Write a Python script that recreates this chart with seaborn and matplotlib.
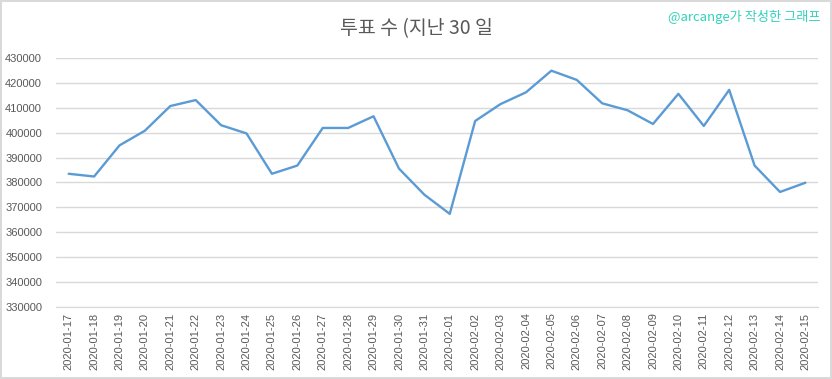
import seaborn as sns
import matplotlib.pyplot as plt
import pandas as pd

dates = ['2020-01-17', '2020-01-18', '2020-01-19', '2020-01-20', '2020-01-21',
         '2020-01-22', '2020-01-23', '2020-01-24', '2020-01-25', '2020-01-26',
         '2020-01-27', '2020-01-28', '2020-01-29', '2020-01-30', '2020-01-31',
         '2020-02-01', '2020-02-02', '2020-02-03', '2020-02-04', '2020-02-05',
         '2020-02-06', '2020-02-07', '2020-02-08', '2020-02-09', '2020-02-10',
         '2020-02-11', '2020-02-12', '2020-02-13', '2020-02-14', '2020-02-15']
votes = [383500, 382400, 394900, 400800, 410700, 413100, 403000, 399700, 383500, 386800,
         401900, 401900, 406600, 385600, 375100, 367400, 404700, 411500, 416200, 424900,
         421200, 411800, 409000, 403500, 415600, 402700, 417200, 386800, 376200, 379900]
y_ticks = [330000, 340000, 350000, 360000, 370000, 380000, 390000, 400000, 410000, 420000, 430000]

title = '투표 수 (지난 30 일'
watermark = '@arcange가 작성한 그래프'

df = pd.DataFrame({'date': dates, 'votes': votes})

sns.set_style('white')
plt.rcParams['font.family'] = ['Liberation Sans', 'Noto Sans CJK KR', 'DejaVu Sans']

fig = plt.figure(figsize=(8.32, 3.79), dpi=100)
fig.patch.set_edgecolor('#d9d9d9')
fig.patch.set_linewidth(1.5)
ax = fig.add_axes([0.0673, 0.19, 0.916, 0.657])

sns.lineplot(data=df, x='date', y='votes', ax=ax, color='#5b9bd5', linewidth=1.7)

ax.set_xlim(-0.5, len(dates) - 0.5)
ax.set_ylim(330000, 430000)
ax.set_yticks(y_ticks)
ax.set_yticklabels([str(v) for v in y_ticks])
ax.set_xticks(range(len(dates)))
ax.set_xticklabels(dates, rotation=90)
ax.yaxis.grid(True, color='#d9d9d9', linewidth=1)
ax.tick_params(axis='both', colors='#595959', labelsize=8, length=0, pad=4)
ax.tick_params(axis='y', pad=10)
ax.set_xlabel('')
ax.set_ylabel('')
for s in ['top', 'right', 'left']:
    ax.spines[s].set_visible(False)
ax.spines['bottom'].set_color('#d9d9d9')

fig.text(0.501, 0.925, title, ha='center', va='center', fontsize=14, color='#595959',
         family=['Noto Sans CJK KR', 'DejaVu Sans'])
fig.text(0.986, 0.955, watermark, ha='right', va='center', fontsize=9.5, color='#33d3bb',
         family=['Noto Sans CJK KR', 'DejaVu Sans'])

fig.savefig('out.png', dpi=100)
